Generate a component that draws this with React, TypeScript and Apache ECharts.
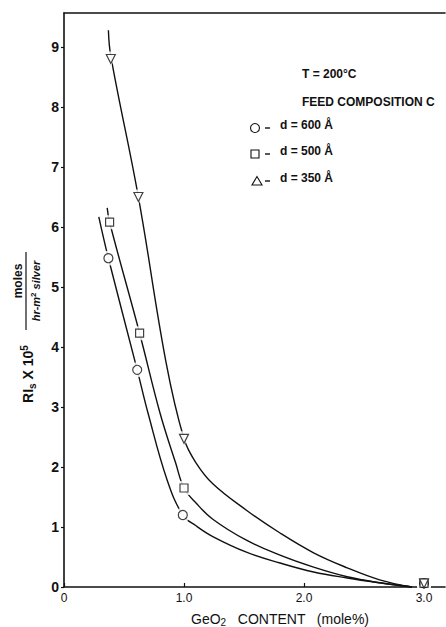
import React, { useEffect, useRef } from "react";
import * as echarts from "echarts";

// Measured points (GeO2 content, mole%) and rate values (RIs x 10^5)
const x600 = [0.37, 0.61, 0.99, 3.0];
const y600 = [5.48, 3.62, 1.2, 0.06];
const x500 = [0.38, 0.63, 1.0, 3.0];
const y500 = [6.08, 4.23, 1.65, 0.06];
const x350 = [0.39, 0.62, 1.0, 3.0];
const y350 = [8.8, 6.5, 2.47, 0.06];

// Hand-drawn fitted curves
const curve600X = [0.29, 0.37, 0.61, 0.7, 0.86, 0.99, 1.1, 1.24, 1.52, 1.8, 2.08, 2.36, 2.63, 2.9];
const curve600Y = [6.17, 5.48, 3.62, 2.9, 1.78, 1.2, 1.02, 0.84, 0.58, 0.4, 0.25, 0.15, 0.07, 0];
const curve500X = [0.36, 0.38, 0.63, 0.8, 0.93, 1.0, 1.1, 1.24, 1.52, 1.8, 2.08, 2.36, 2.63, 2.9];
const curve500Y = [6.32, 6.08, 4.23, 2.9, 2.07, 1.65, 1.4, 1.13, 0.78, 0.53, 0.33, 0.17, 0.07, 0];
const curve350X = [0.37, 0.39, 0.62, 0.85, 1.0, 1.1, 1.24, 1.52, 1.8, 2.08, 2.36, 2.63, 2.9];
const curve350Y = [9.28, 8.85, 6.5, 3.75, 2.47, 2.07, 1.72, 1.28, 0.9, 0.57, 0.32, 0.12, 0];

const xTicks = ["0", "1.0", "2.0", "3.0"];
const legendTitle = "T = 200°C";
const legendSub = "FEED COMPOSITION C";
const legendLabels = ["d = 600 Å", "d = 500 Å", "d = 350 Å"];

const FONT = "Liberation Sans";
const INK = "#111";

const zip = (xs: number[], ys: number[]) => xs.map((x, i) => [x, ys[i]]);

export default function App() {
  const ref = useRef<HTMLDivElement>(null);
  useEffect(() => {
    if (!ref.current) return;
    const chart = echarts.init(ref.current, null, { renderer: "svg" });

    const curve = (xs: number[], ys: number[]) => ({
      type: "line",
      data: zip(xs, ys),
      smooth: 0.4,
      showSymbol: false,
      lineStyle: { color: INK, width: 1.4 },
      z: 2,
    });
    const gap = (xs: number[], ys: number[], symbol: string, size: number, rot = 0) => ({
      type: "scatter",
      data: zip(xs, ys),
      symbol,
      symbolSize: size + 6,
      symbolRotate: rot,
      itemStyle: { color: "#fff", borderWidth: 0 },
      z: 3,
      clip: false,
    });
    const marks = (xs: number[], ys: number[], symbol: string, size: number, rot = 0) => ({
      type: "scatter",
      data: zip(xs, ys),
      symbol,
      symbolSize: size,
      symbolRotate: rot,
      itemStyle: { color: "#fff", borderColor: INK, borderWidth: 1.2 },
      z: 4,
      clip: false,
    });

    const rows = [128, 154, 181];

    chart.setOption({
      animation: false,
      backgroundColor: "#fff",
      grid: { left: 64, right: 1, top: 13, bottom: 40 },
      xAxis: [
        {
          type: "value",
          min: 0,
          max: 3.175,
          interval: 1,
          axisLine: { show: true, lineStyle: { color: INK, width: 1.6 } },
          axisTick: { show: true, inside: true, length: 4, lineStyle: { color: INK, width: 1.2 } },
          splitLine: { show: false },
          axisLabel: {
            color: INK,
            fontFamily: FONT,
            fontSize: 12,
            margin: 5,
            showMaxLabel: false,
            formatter: (v: number) => (v > 3.05 ? "" : xTicks[Math.round(v)] ?? ""),
          },
        },
        {
          type: "value",
          position: "top",
          min: 0,
          max: 3.175,
          axisLine: { show: true, lineStyle: { color: INK, width: 1.6 } },
          axisTick: { show: false },
          axisLabel: { show: false },
          splitLine: { show: false },
        },
      ],
      yAxis: {
        type: "value",
        min: 0,
        max: 9.567,
        interval: 1,
        axisLine: { show: true, lineStyle: { color: INK, width: 1.6 } },
        axisTick: { show: true, inside: false, length: 3, lineStyle: { color: INK, width: 1.2 } },
        splitLine: { show: false },
        axisLabel: {
          color: INK,
          fontFamily: FONT,
          fontWeight: "bold",
          fontSize: 14,
          margin: 5,
          showMaxLabel: false,
          formatter: (v: number) => (Math.abs(v - Math.round(v)) > 0.01 ? "" : String(v)),
        },
      },
      series: [
        curve(curve600X, curve600Y),
        curve(curve500X, curve500Y),
        curve(curve350X, curve350Y),
        gap(x600, y600, "circle", 9),
        gap(x500, y500, "rect", 8),
        gap(x350, y350, "triangle", 9, 180),
        marks(x600, y600, "circle", 9),
        marks(x500, y500, "rect", 8),
        marks(x350, y350, "triangle", 9, 180),
      ],
      graphic: [
        {
          type: "text",
          left: 191,
          top: 612,
          style: {
            text: "GeO{sub|2}   CONTENT   (mole%)",
            font: `14px ${FONT}`,
            fill: INK,
            rich: {
              sub: { fontSize: 10, fontFamily: FONT, fill: INK, padding: [7, 0, 0, 0] },
            },
          },
        },
        {
          type: "text",
          x: 28,
          y: 374,
          rotation: Math.PI / 2,
          style: {
            text: "RI{sub|s} X 10{sup|5}",
            font: `bold 14px ${FONT}`,
            fill: INK,
            align: "center",
            verticalAlign: "middle",
            rich: {
              sub: { fontSize: 10, fontWeight: "bold", fontFamily: FONT, fill: INK, padding: [8, 0, 0, 0] },
              sup: { fontSize: 10, fontWeight: "bold", fontFamily: FONT, fill: INK, padding: [0, 0, 8, 0] },
            },
          },
        },
        {
          type: "text",
          x: 18,
          y: 281,
          rotation: Math.PI / 2,
          style: {
            text: "moles",
            font: `bold 12px ${FONT}`,
            fill: INK,
            align: "center",
            verticalAlign: "middle",
          },
        },
        {
          type: "line",
          shape: { x1: 26, y1: 252, x2: 26, y2: 330 },
          style: { stroke: INK, lineWidth: 1.2 },
        },
        {
          type: "text",
          x: 36,
          y: 291,
          rotation: Math.PI / 2,
          style: {
            text: "hr-m{sup|2} silver",
            font: `italic bold 11px ${FONT}`,
            fill: INK,
            align: "center",
            verticalAlign: "middle",
            rich: {
              sup: { fontSize: 8, fontWeight: "bold", fontFamily: FONT, fill: INK, padding: [0, 0, 6, 0] },
            },
          },
        },
        {
          type: "text",
          left: 302,
          top: 68,
          style: { text: legendTitle, font: `bold 12px ${FONT}`, fill: INK },
        },
        {
          type: "text",
          left: 302,
          top: 96,
          style: { text: legendSub, font: `bold 12px ${FONT}`, fill: INK },
        },
        {
          type: "circle",
          shape: { cx: 255, cy: rows[0], r: 4.5 },
          style: { fill: "#fff", stroke: INK, lineWidth: 1.1 },
        },
        {
          type: "rect",
          shape: { x: 251, y: rows[1] - 4, width: 8, height: 8 },
          style: { fill: "#fff", stroke: INK, lineWidth: 1.1 },
        },
        {
          type: "polygon",
          shape: { points: [[257, rows[2] - 4.5], [252, rows[2] + 4], [262, rows[2] + 4]] },
          style: { fill: "#fff", stroke: INK, lineWidth: 1.1 },
        },
        ...rows.map((r) => ({
          type: "line",
          shape: { x1: 265, y1: r, x2: 270, y2: r },
          style: { stroke: INK, lineWidth: 1.4 },
        })),
        ...rows.map((r, i) => ({
          type: "text",
          left: 280,
          top: r - 9,
          style: { text: legendLabels[i], font: `bold 12px ${FONT}`, fill: INK },
        })),
      ],
    });
    return () => chart.dispose();
  }, []);
  return <div ref={ref} style={{ width: 446, height: 627, position: "absolute", left: 0, top: 0 }} />;
}
